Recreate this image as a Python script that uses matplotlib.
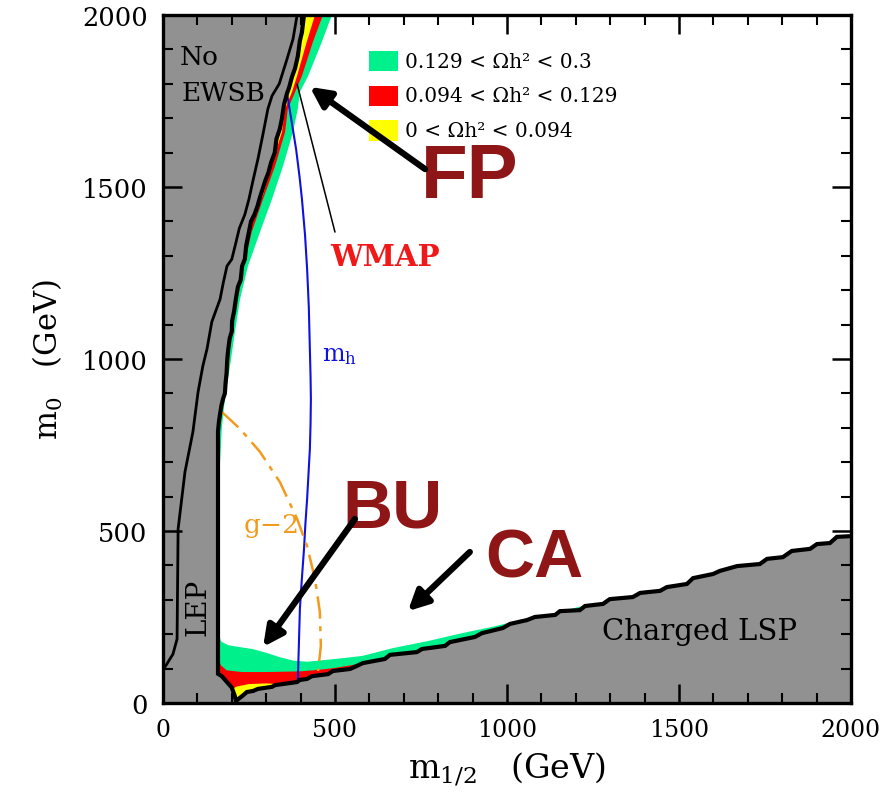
#!/usr/bin/env python3
# -*- coding: utf-8 -*-
"""mSUGRA (m1/2, m0) plane with the WMAP relic density bands."""

import matplotlib

matplotlib.use("Agg")
import matplotlib.pyplot as plt
import numpy as np
from matplotlib.patches import Polygon, Rectangle
from matplotlib.ticker import MultipleLocator

# EWSB / LEP boundary (right edge of the grey excluded wedge), top to bottom
inner_x = [410, 404, 398, 392, 384, 375, 367, 360, 352, 346, 340, 330, 325,
           314, 306, 298, 290, 282, 275, 266, 256, 250, 242, 238, 230, 226,
           218, 212, 207, 201, 200, 194, 190, 187, 185, 182, 180, 175, 170,
           166, 163, 160, 160]
inner_y = [2000, 1950, 1925, 1880, 1845, 1820, 1790, 1770, 1740, 1700, 1670,
           1640, 1600, 1570, 1540, 1520, 1495, 1470, 1445, 1420, 1400, 1370,
           1330, 1290, 1270, 1230, 1210, 1175, 1140, 1110, 1080, 1060, 1030,
           1000, 960, 930, 900, 885, 865, 840, 820, 790, 85]

# charged LSP staircase, left to right
lsp_x = [171, 200, 209, 212, 230, 244, 262, 276, 317, 326, 390, 398, 419, 433,
         480, 494, 544, 564, 581, 645, 660, 738, 753, 820, 834, 907, 927, 988,
         1009, 1058, 1081, 1140, 1154, 1212, 1227, 1279, 1299, 1366, 1387,
         1445, 1465, 1523, 1541, 1599, 1619, 1669, 1735, 1756, 1802, 1828,
         1881, 1901, 1939, 1959, 2000]
lsp_y = [78, 45, 20, 6, 20, 32, 35, 41, 47, 52, 61, 67, 70, 78, 84, 93, 99,
         108, 116, 128, 140, 148, 157, 166, 177, 192, 203, 218, 230, 241, 250,
         256, 267, 270, 282, 288, 302, 308, 320, 326, 337, 346, 363, 375, 384,
         398, 404, 419, 424, 442, 448, 462, 465, 483, 485]

# second contour inside the grey region
outer_x = [390, 378, 360, 338, 317, 305, 290, 276, 262, 250, 238, 222, 210,
           200, 186, 175, 166, 150, 142, 128, 116, 102, 87, 64, 44, 41, 29, 6,
           0]
outer_y = [2000, 1930, 1870, 1800, 1765, 1727, 1650, 1581, 1520, 1465, 1420,
           1380, 1330, 1290, 1270, 1220, 1174, 1130, 1108, 1029, 980, 904, 788,
           672, 506, 186, 142, 105, 93]

# focus point bands: outer edge of each colour
fp_green_x = [491, 462, 422, 398, 392, 378, 349, 317, 282, 247, 224, 209, 195,
              180, 171, 166]
fp_green_y = [2000, 1922, 1823, 1776, 1727, 1660, 1561, 1465, 1369, 1270, 1174,
              1078, 980, 884, 797, 700]
fp_red_x = [465, 436, 404, 384, 363, 355, 326, 291, 258, 247, 240, 232, 226,
            218, 212]
fp_red_y = [2000, 1922, 1823, 1776, 1727, 1660, 1561, 1465, 1369, 1320, 1290,
            1260, 1230, 1200, 1170]
fp_yellow_x = [442, 418, 390, 375, 355, 346, 315, 292, 276]
fp_yellow_y = [2000, 1922, 1823, 1776, 1727, 1660, 1561, 1480, 1440]

# bulk / co-annihilation bands: upper edge of each colour
bu_green_x = [150, 160, 163, 170, 190, 220, 260, 300, 340, 380, 420, 470, 520,
              580, 670, 770, 865, 960, 1058, 1140, 1212, 1260]
bu_green_y = [215, 215, 195, 178, 168, 163, 157, 146, 133, 123, 120, 125, 130,
              137, 160, 180, 202, 222, 246, 262, 280, 292]
bu_red_x = [150, 160, 168, 185, 230, 300, 400, 450, 500, 560, 610]
bu_red_y = [135, 135, 110, 95, 90, 90, 92, 96, 102, 112, 122]
bu_yellow_x = [190, 215, 250, 300, 335, 345]
bu_yellow_y = [35, 48, 55, 57, 55, 45]

# light Higgs mass contour and g-2 contour
mh_x = [360, 374, 387, 397, 404, 413, 419, 424, 427, 429, 430, 429, 427, 423,
        419, 414, 410, 403, 398, 392]
mh_y = [1776, 1690, 1610, 1530, 1465, 1360, 1262, 1150, 1029, 950, 884, 810,
        738, 665, 593, 520, 448, 350, 273, 62]
g2_x = [171, 224, 282, 340, 390, 419, 442, 456, 459, 451]
g2_y = [846, 797, 730, 642, 535, 456, 360, 265, 166, 93]

legend_labels = ["0.129 < \u03a9h\u00b2 < 0.3",
                 "0.094 < \u03a9h\u00b2 < 0.129",
                 "0 < \u03a9h\u00b2 < 0.094"]

GREEN = "#00F08C"
RED = "#FF0000"
YELLOW = "#FFFF00"
GREY = "#919191"
MAROON = "#8E1616"
SERIF = "DejaVu Serif"


def band(ax, xs, ys, close, color, clip):
    """Fill a colour band and clip it to the allowed region."""
    pts = np.column_stack([xs, ys])
    pts = np.vstack([pts, close])
    poly = Polygon(pts, closed=True, facecolor=color, edgecolor="none",
                   zorder=2)
    ax.add_patch(poly)
    poly.set_clip_path(clip)


def main() -> None:
    plt.rcParams["mathtext.fontset"] = "dejavuserif"
    fig = plt.figure(figsize=(8.92, 8.12), dpi=100)
    ax = fig.add_axes([0.1827, 0.133, 0.7713, 0.8473])
    ax.set_facecolor(GREY)
    ax.set_xlim(0, 2000)
    ax.set_ylim(0, 2000)

    edge_x = inner_x + lsp_x
    edge_y = inner_y + lsp_y
    allowed = np.column_stack([edge_x + [2000], edge_y + [2000]])
    clip = Polygon(allowed, closed=True, facecolor="white", edgecolor="none",
                   zorder=1)
    ax.add_patch(clip)

    band(ax, fp_green_x, fp_green_y, [[0, 700], [0, 2000]], GREEN, clip)
    band(ax, fp_red_x, fp_red_y, [[0, 1170], [0, 2000]], RED, clip)
    band(ax, fp_yellow_x, fp_yellow_y, [[0, 1440], [0, 2000]], YELLOW, clip)
    band(ax, bu_green_x, bu_green_y, [[1260, 0], [150, 0]], GREEN, clip)
    band(ax, bu_red_x, bu_red_y, [[610, 0], [150, 0]], RED, clip)
    band(ax, bu_yellow_x, bu_yellow_y, [[345, 0], [190, 0]], YELLOW, clip)

    ax.plot(outer_x, outer_y, color="black", lw=2.0, zorder=3)
    ax.plot(mh_x, mh_y, color="#1010E0", lw=1.5, zorder=4)
    ax.plot(g2_x, g2_y, color="#F29A1E", lw=1.8, zorder=4,
            linestyle=(0, (9, 3, 2, 3)))
    ax.plot(edge_x, edge_y, color="black", lw=3.0, zorder=5,
            solid_joinstyle="miter")

    # labels inside the plot
    ax.text(49, 1878, "No", family=SERIF, fontsize=19, va="center", zorder=6)
    ax.text(55, 1776, "EWSB", family=SERIF, fontsize=19, va="center",
            zorder=6)
    ax.text(102, 282, "LEP", family=SERIF, fontsize=20, rotation=90,
            ha="center", va="center", zorder=6)
    ax.text(1561, 209, "Charged LSP", family=SERIF, fontsize=21,
            ha="center", va="center", zorder=6)
    ax.text(645, 1297, "WMAP", family=SERIF, fontsize=21, weight="bold",
            color="#F01818", ha="center", va="center", zorder=6)
    ax.text(462, 1015, r"$\mathrm{m}_\mathrm{h}$", fontsize=17,
            color="#1010E0", va="center", zorder=6)
    ax.text(317, 520, "g\u22122", family=SERIF, fontsize=19, color="#F29A1E",
            ha="center", va="center", zorder=6)

    for name, pos, size in (("FP", (892, 1529), 55), ("BU", (666, 564), 50),
                            ("CA", (1081, 419), 49)):
        ax.text(*pos, name, family="Liberation Sans", weight="bold",
                fontsize=size, color=MAROON, ha="center", va="center",
                zorder=7)

    thick = dict(arrowstyle="-|>,head_length=1.2,head_width=0.6",
                 color="black", lw=4.5, shrinkA=0, shrinkB=0)
    ax.annotate("", xy=(427, 1791), xytext=(762, 1552), arrowprops=thick,
                zorder=7)
    ax.annotate("", xy=(291, 163), xytext=(558, 535), arrowprops=thick,
                zorder=7)
    ax.annotate("", xy=(712, 267), xytext=(892, 439), arrowprops=thick,
                zorder=7)
    ax.annotate("", xy=(390, 1799), xytext=(500, 1369),
                arrowprops=dict(arrowstyle="-", color="black", lw=1.1,
                                shrinkA=0, shrinkB=0), zorder=6)

    # legend boxes
    for i, (color, label) in enumerate(zip([GREEN, RED, YELLOW],
                                           legend_labels)):
        y0 = 0.918 - i * 0.0505
        ax.add_patch(Rectangle((0.300, y0), 0.042, 0.030, facecolor=color,
                               edgecolor="none", transform=ax.transAxes,
                               zorder=6))
        ax.text(0.352, y0 + 0.015, label, family=SERIF, fontsize=14.5,
                va="center", transform=ax.transAxes, zorder=6)

    # axes styling
    for spine in ax.spines.values():
        spine.set_linewidth(2.4)
        spine.set_zorder(8)
    ax.xaxis.set_major_locator(MultipleLocator(500))
    ax.yaxis.set_major_locator(MultipleLocator(500))
    ax.xaxis.set_minor_locator(MultipleLocator(100))
    ax.yaxis.set_minor_locator(MultipleLocator(100))
    ax.tick_params(which="both", direction="in", top=True, right=True,
                   pad=11)
    ax.tick_params(axis="x", labelsize=17)
    ax.tick_params(axis="y", labelsize=18.5)
    ax.tick_params(which="major", length=14, width=1.8)
    ax.tick_params(which="minor", length=7, width=1.5)
    for lab in ax.get_xticklabels() + ax.get_yticklabels():
        lab.set_family(SERIF)

    ax.set_xlabel(r"$\mathrm{m}_{1/2}$   (GeV)", family=SERIF, fontsize=24,
                  labelpad=6)
    ax.set_ylabel(r"$\mathrm{m}_0$   (GeV)", family=SERIF, fontsize=22,
                  labelpad=12)

    fig.savefig("out.png", dpi=100)
    plt.close(fig)


if __name__ == "__main__":
    main()
